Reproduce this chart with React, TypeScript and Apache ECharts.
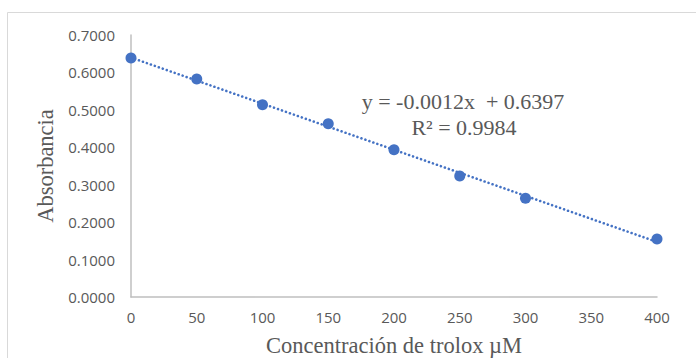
import React, { useEffect, useRef } from "react";
import * as echarts from "echarts";

const concentrations = [0, 50, 100, 150, 200, 250, 300, 400];
const absorbances = [0.6385, 0.5824, 0.5135, 0.4630, 0.3935, 0.3230, 0.2637, 0.1550];
const equationText = "y = -0.0012x  + 0.6397";
const r2Text = "R² = 0.9984";
const xTitle = "Concentración de trolox µM";
const yTitle = "Absorbancia";

function linearFit(xs: number[], ys: number[]) {
  const n = xs.length;
  const mx = xs.reduce((a, b) => a + b, 0) / n;
  const my = ys.reduce((a, b) => a + b, 0) / n;
  let sxy = 0;
  let sxx = 0;
  for (let i = 0; i < n; i++) {
    sxy += (xs[i] - mx) * (ys[i] - my);
    sxx += (xs[i] - mx) * (xs[i] - mx);
  }
  const m = sxy / sxx;
  return { m, b: my - m * mx };
}

export default function App() {
  const ref = useRef<HTMLDivElement>(null);
  useEffect(() => {
    if (!ref.current) return;
    const chart = echarts.init(ref.current, undefined, { renderer: "svg" });
    const fit = linearFit(concentrations, absorbances);
    const trend = [
      [0, fit.b],
      [400, fit.b + fit.m * 400],
    ];
    const gray = "#595959";
    chart.setOption({
      animation: false,
      backgroundColor: "#ffffff",
      grid: { left: 131, right: 39, top: 35, bottom: 61, containLabel: false, outerBoundsMode: "none" },
      xAxis: {
        type: "value",
        min: 0,
        max: 400,
        interval: 50,
        name: xTitle,
        nameLocation: "middle",
        nameGap: 37,
        nameTextStyle: { fontFamily: "Liberation Serif", fontSize: 22.5, color: gray },
        axisLine: { show: true, lineStyle: { color: "#bfbfbf", width: 1.5 } },
        axisTick: { show: false },
        splitLine: { show: false },
        axisLabel: { fontFamily: "Open Sans", fontSize: 15, color: gray, margin: 12 },
      },
      yAxis: {
        type: "value",
        min: 0,
        max: 0.7,
        interval: 0.1,
        name: yTitle,
        nameLocation: "middle",
        nameRotate: 90,
        nameGap: 72,
        nameTextStyle: { fontFamily: "Liberation Serif", fontSize: 22.5, color: gray },
        axisLine: { show: true, lineStyle: { color: "#bfbfbf", width: 1.5 } },
        axisTick: { show: false },
        splitLine: { show: false },
        axisLabel: {
          fontFamily: "Open Sans",
          fontSize: 15,
          color: gray,
          margin: 16,
          formatter: (v: number) => v.toFixed(4),
        },
      },
      series: [
        {
          type: "line",
          data: trend,
          showSymbol: false,
          symbol: "none",
          lineStyle: { color: "#4472C4", width: 2.6, type: [0.01, 4.2], cap: "round" },
          z: 1,
        },
        {
          type: "scatter",
          data: concentrations.map((x, i) => [x, absorbances[i]]),
          symbol: "circle",
          symbolSize: 11,
          itemStyle: { color: "#4472C4", opacity: 1 },
          z: 2,
        },
      ],
      graphic: [
        {
          type: "rect",
          shape: { x: 7.5, y: 12.5, width: 700, height: 400 },
          style: { fill: "none", stroke: "#d9d9d9", lineWidth: 1 },
          silent: true,
          z: -10,
        },
        {
          type: "text",
          x: 463,
          y: 101,
          style: {
            text: equationText,
            fontFamily: "Liberation Serif",
            fontSize: 22,
            fill: gray,
            textAlign: "center",
            textVerticalAlign: "middle",
          },
        },
        {
          type: "text",
          x: 464,
          y: 127,
          style: {
            text: r2Text,
            fontFamily: "Liberation Serif",
            fontSize: 22,
            fill: gray,
            textAlign: "center",
            textVerticalAlign: "middle",
          },
        },
      ],
    });
    return () => chart.dispose();
  }, []);
  return <div ref={ref} style={{ width: 696, height: 358, position: "fixed", left: 0, top: 0 }} />;
}
